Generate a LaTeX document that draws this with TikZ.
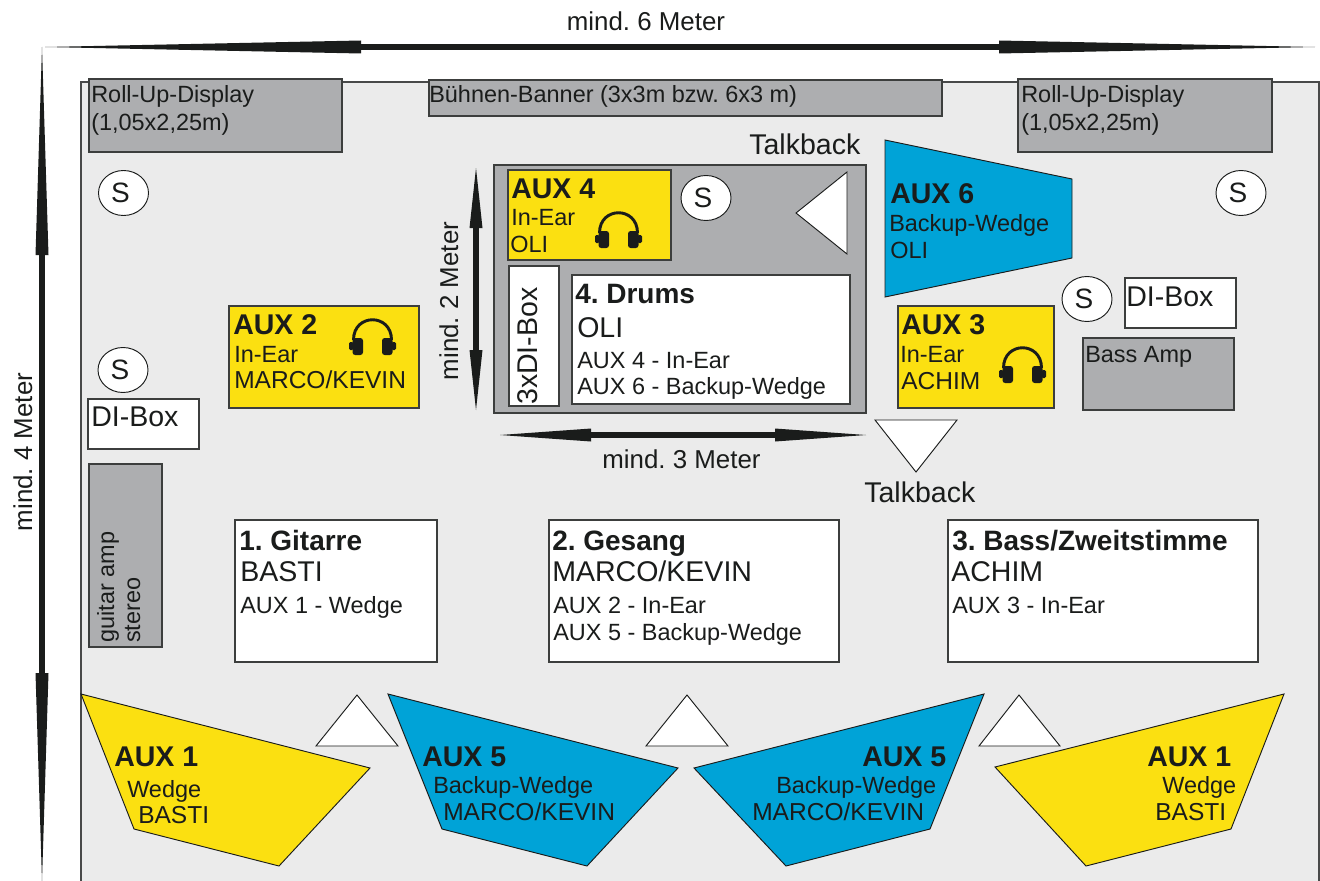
\documentclass[tikz,border=0pt]{standalone}
\usepackage{fontspec}
\setmainfont{Liberation Sans}
\usetikzlibrary{arrows.meta,shapes,positioning,fit,backgrounds,calc}
\definecolor{stagegray}{HTML}{EBEBEB}
\definecolor{boxgray}{HTML}{ADAEB0}
\definecolor{auxyellow}{HTML}{FBE011}
\definecolor{auxblue}{HTML}{00A3D7}
\definecolor{inkdark}{HTML}{1A1C1B}
\begin{document}
\frenchspacing
\begin{tikzpicture}[x=0.75pt,y=-0.75pt,
  box/.style={draw=inkdark!85,line width=0.8pt,inner sep=0pt,outer sep=0pt},
  whitebox/.style={box,fill=white},
  graybox/.style={box,fill=boxgray},
  yellowbox/.style={box,fill=auxyellow},
  wedge/.style={draw=inkdark,line width=0.7pt,line join=miter},
  talk/.style={wedge,fill=white},
  speaker/.style={draw=inkdark,line width=0.7pt,fill=white,ellipse,inner sep=0pt,minimum width=37.5pt,minimum height=33.75pt,text=inkdark,font=\fontsize{21}{25}\selectfont},
  lab/.style={anchor=base west,inner sep=0pt,text=inkdark,font=\fontsize{17.6}{21}\selectfont},
  labcaps/.style={lab,font=\fontsize{18.4}{22}\selectfont},
  labbig/.style={lab,font=\fontsize{21.4}{25}\selectfont},
  labhead/.style={lab,font=\fontsize{21}{25}\selectfont\bfseries},
  labaux/.style={lab,xshift=-0.75pt,font=\fontsize{21.4}{25}\selectfont\bfseries},
  labdim/.style={anchor=base,inner sep=0pt,text=inkdark,font=\fontsize{19.4}{23}\selectfont},
  longdim/.style={<->,>={Triangle[length=#1*0.75pt,width=9.75pt,line width=0pt]},line width=4.6pt,draw=inkdark,fill=inkdark},
  headset/.pic={
    \draw[inkdark,line width=2.2pt] (-19,21) .. controls (-19,-6) and (19,-6) .. (19,21);
    \fill[inkdark,rounded corners=2pt] (-20,19) rectangle (-9.5,36);
    \fill[inkdark,rounded corners=2pt] (9.5,19) rectangle (20,36);
    \fill[inkdark,rounded corners=1pt] (-23.5,23) rectangle (-19,31);
    \fill[inkdark,rounded corners=1pt] (19,23) rectangle (23.5,31);
  }]
  \useasboundingbox (0,0) rectangle (1320,881);
  \fill[white] (0,0) rectangle (1320,881);
  % stage floor
  \draw[fill=stagegray,draw=inkdark!80,line width=0.8pt] (81,881) -- (81,82) -- (1319,82) -- (1319,881);

  % outer dimensions
  \coordinate (widthL) at (45,47);
  \coordinate (widthR) at (1315,47);
  \coordinate (depthT) at (42,47);
  \coordinate (depthB) at (42,881);
  \draw[longdim=316] (widthL) -- (widthR);
  \draw[longdim=208] (depthT) -- (depthB);
  \node[labdim] (width6) at (646,31) {mind. 6 Meter};
  \node[labdim,rotate=90] (depth4) at (32,452) {mind. 4 Meter};

  % back line
  \node[graybox,fit={(89,79)(342,152)}] (rollL) {};
  \node[graybox,fit={(429,80)(942,116)}] (banner) {};
  \node[graybox,fit={(1018,79)(1272,152)}] (rollR) {};
  \node[lab] (rollLa) at (91,103) {Roll-Up-Display};
  \node[lab] (rollLb) at (91,130) {(1,05x2,25m)};
  \node[lab] (bannerT) at (429,103) {Bühnen-Banner (3x3m bzw. 6x3 m)};
  \node[lab] (rollRa) at (1021,103) {Roll-Up-Display};
  \node[lab] (rollRb) at (1021,130) {(1,05x2,25m)};

  % drum riser
  \node[graybox,fit={(494,165)(866,413)}] (riser) {};
  \node[yellowbox,fit={(508,170)(671,260)}] (aux4) {};
  \node[whitebox,fit={(509,266)(559,406)}] (diDrum) {};
  \node[whitebox,fit={(572,275)(850,404)}] (drums) {};
  \node[labaux] (aux4a) at (512,198) {AUX 4};
  \node[lab] (aux4b) at (511,225) {In-Ear};
  \node[lab] (aux4c) at (510,252) {OLI};
  \pic at (618.5,212) {headset};
  \node[labbig,rotate=90] (diDrumT) at (537,405) {3xDI-Box};
  \node[labhead] (drumsa) at (575,303) {4. Drums};
  \node[labbig] (drumsb) at (577,337) {OLI};
  \node[lab] (drumsc) at (577,368) {AUX 4 - In-Ear};
  \node[lab] (drumsd) at (577,394) {AUX 6 - Backup-Wedge};
  \draw[talk] (847,172) -- (796,213) -- (847,254) -- cycle;
  \node[labbig] (talkT) at (749,154) {Talkback};

  % riser dimensions
  \coordinate (riserT) at (476,168);
  \coordinate (riserB) at (476,410);
  \coordinate (riserL) at (500,435);
  \coordinate (riserR) at (866,435);
  \draw[longdim=60] (riserT) -- (riserB);
  \draw[longdim=91] (riserL) -- (riserR);
  \node[labdim,rotate=90] (riser2) at (458,301) {mind. 2 Meter};
  \node[labdim] (riser3) at (681.5,468) {mind. 3 Meter};
  \draw[talk] (875,420) -- (957,420) -- (916,472) -- cycle;
  \node[labbig] (talkB) at (864,502) {Talkback};

  % speakers
  \foreach \sname/\sx/\sy in {sa/123.5/193,sb/123/370,sc/706/198,sd/1241/193,se/1087/299}
    \node[speaker] (\sname) at (\sx,\sy) {S\kern4.5pt};

  % left side
  \node[whitebox,fit={(88,399)(199,449)}] (diL) {};
  \node[labbig] (diLT) at (91,426) {DI-Box};
  \node[graybox,fit={(89,464)(162,647)}] (guitar) {};
  \node[lab,rotate=90] (guitarA) at (114,643) {guitar amp};
  \node[lab,rotate=90] (guitarB) at (140,643) {stereo};
  \node[yellowbox,fit={(229,306)(419,408)}] (aux2) {};
  \node[labaux] (aux2a) at (234,334) {AUX 2};
  \node[lab] (aux2b) at (234,362) {In-Ear};
  \node[labcaps] (aux2c) at (234,388) {MARCO/KEVIN};
  \pic at (372.5,319) {headset};

  % right side
  \path[fill=auxblue,draw=inkdark,line width=0.7pt] (885,140) -- (1072,179) -- (1072,258) -- (885,297) -- cycle;
  \node[labaux] (aux6a) at (891,203) {AUX 6};
  \node[lab] (aux6b) at (889,231) {Backup-Wedge};
  \node[lab] (aux6c) at (890,258) {OLI};
  \node[yellowbox,fit={(898,306)(1054,408)}] (aux3) {};
  \node[labaux] (aux3a) at (902,334) {AUX 3};
  \node[lab] (aux3b) at (900,362) {In-Ear};
  \node[labcaps] (aux3c) at (901,389) {ACHIM};
  \pic at (1022.5,347) {headset};
  \node[whitebox,fit={(1125,278)(1236,328)}] (diR) {};
  \node[labbig] (diRT) at (1126,306) {DI-Box};
  \node[graybox,fit={(1083,338)(1234,410)}] (bassamp) {};
  \node[lab] (bassampT) at (1085,362) {Bass Amp};

  % front line
  \node[whitebox,fit={(235,520)(437,662)}] (gitarre) {};
  \node[labhead] (gitarrea) at (239,550) {1. Gitarre};
  \node[labbig] (gitarreb) at (240,581) {BASTI};
  \node[lab] (gitarrec) at (240,613) {AUX 1 - Wedge};
  \node[whitebox,fit={(549,520)(839,662)}] (gesang) {};
  \node[labhead] (gesanga) at (552,550) {2. Gesang};
  \node[labbig] (gesangb) at (552,581) {MARCO/KEVIN};
  \node[lab] (gesangc) at (553,613) {AUX 2 - In-Ear};
  \node[lab] (gesangd) at (553,640) {AUX 5 - Backup-Wedge};
  \node[whitebox,fit={(948,520)(1258,662)}] (bass) {};
  \node[labhead] (bassa) at (952,550) {3. Bass/Zweitstimme};
  \node[labbig] (bassb) at (951,581) {ACHIM};
  \node[lab] (bassc) at (952,613) {AUX 3 - In-Ear};

  % wedges
  \draw[wedge,fill=auxyellow] (81,694) -- (370,768) -- (279,866) -- (134,829) -- cycle;
  \draw[wedge,fill=auxblue] (388,694) -- (678,768) -- (587,866) -- (442,829) -- cycle;
  \draw[wedge,fill=auxblue] (984,694) -- (694,768) -- (786,866) -- (930,829) -- cycle;
  \draw[wedge,fill=auxyellow] (1284,694) -- (995,767) -- (1086,866) -- (1231,829) -- cycle;
  \draw[talk] (357,695) -- (398,746) -- (316,746) -- cycle;
  \draw[talk] (687,695) -- (728,746) -- (646,746) -- cycle;
  \draw[talk] (1019,695) -- (1060,746) -- (979,746) -- cycle;
  \node[labaux] (w1a) at (115,766) {AUX 1};
  \node[lab] (w1b) at (127,797) {Wedge};
  \node[labcaps] (w1c) at (138,823) {BASTI};
  \node[labaux] (w2a) at (423,766) {AUX 5};
  \node[lab] (w2b) at (433,793) {Backup-Wedge};
  \node[labcaps] (w2c) at (443,820) {MARCO/KEVIN};
  \node[labaux] (w3a) at (863,766) {AUX 5};
  \node[lab] (w3b) at (776,793) {Backup-Wedge};
  \node[labcaps] (w3c) at (752,820) {MARCO/KEVIN};
  \node[labaux] (w4a) at (1148,766) {AUX 1};
  \node[lab] (w4b) at (1162,793) {Wedge};
  \node[labcaps] (w4c) at (1155,820) {BASTI};
\end{tikzpicture}
\end{document}
